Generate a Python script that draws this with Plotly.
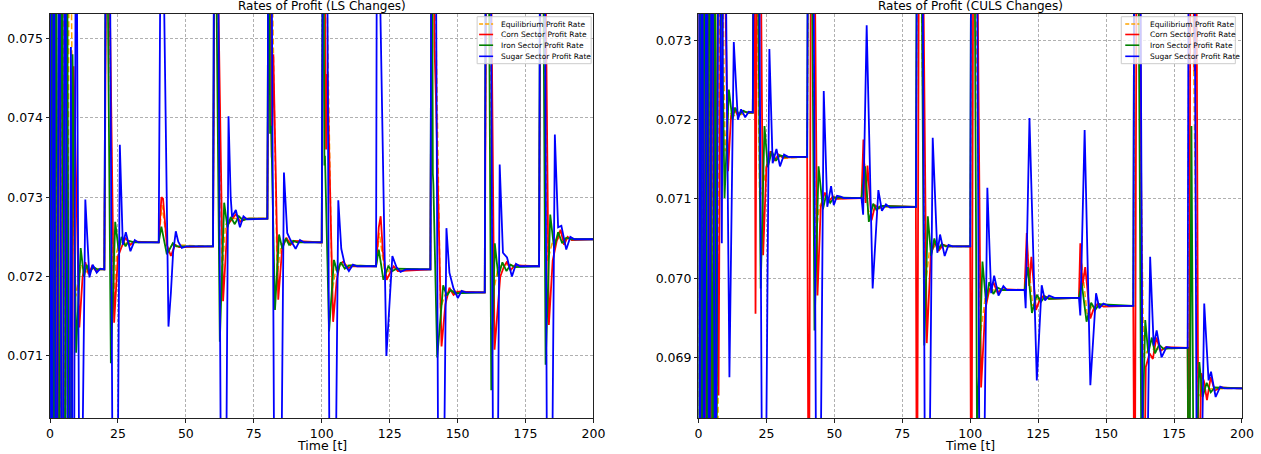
import plotly.graph_objects as go

# ---------------- data: (time, profit rate) points ----------------
# values outside the visible y-range are spikes that run off the axes
LS_EQUIL = [(0,0.078),(1.0,0.066),(2.0,0.078),(3.4,0.066),(4.5,0.078),(6.0,0.066),(7.2,0.078),(8.6,0.0728),(9.5,0.07175),(10.5,0.07195),(11.5,0.07215),(13,0.07205),(15,0.07210),(20,0.07209),
    (20.8,0.078),(23.4,0.0716),(24.5,0.0723),(25.5,0.07245),(27,0.07240),(29,0.07244),(40,0.07243),
    (41.2,0.07290),(43.5,0.07232),(45,0.07240),(60,0.07238),
    (60.7,0.078),(63.3,0.0720),(64.6,0.07265),(66,0.07273),(80,0.07273),
    (80.7,0.078),(83.6,0.0720),(85,0.07240),(87,0.07245),(100,0.07243),
    (100.7,0.078),(103.8,0.0718),(105.2,0.0721),(107,0.07215),(120,0.07213),
    (121.2,0.07255),(123.4,0.07200),(125,0.07210),(140,0.07209),
    (140.7,0.078),(143.7,0.0716),(145.5,0.07178),(147,0.07182),(160,0.07180),
    (160.7,0.078),(163.2,0.0718),(164.8,0.0721),(166.5,0.07215),(180,0.07213),
    (180.7,0.078),(183.2,0.0722),(185,0.07245),(187,0.07248),(200,0.07247)]

LS_CORN = [(0,0.078),(0.8,0.066),(1.7,0.078),(2.6,0.066),(3.5,0.078),(4.6,0.066),(5.6,0.078),(7.6,0.066),(8.7,0.07465),(10.8,0.07136),(12.0,0.07200),(13.0,0.07218),(14.2,0.07203),(15.5,0.07213),(17.0,0.07207),(18.0,0.07209),(20.0,0.07209),
    (21.0,0.078),(23.6,0.07142),(25.0,0.07225),(26.2,0.07236),(27.8,0.07249),(29.5,0.07240),(31.0,0.07244),(40.0,0.07243),
    (41.0,0.07300),(41.6,0.07298),(43.0,0.07240),(44.5,0.07226),(46.0,0.07240),(47.5,0.07237),(60.0,0.07238),
    (60.8,0.078),(63.7,0.07169),(65.3,0.07265),(67.0,0.07272),(68.5,0.07279),(70.0,0.07269),(72.0,0.07273),(80.0,0.07273),
    (80.8,0.078),(81.6,0.0735),(82.2,0.0748),(84.0,0.07171),(85.5,0.07238),(87.0,0.07249),(88.5,0.07240),(90.0,0.07245),(100.0,0.07243),
    (100.8,0.078),(101.6,0.0736),(102.1,0.07455),(104.2,0.07143),(105.5,0.07195),(106.6,0.07215),(108.0,0.07219),(109.5,0.07210),(111.0,0.07213),(120.0,0.07213),
    (121.0,0.07262),(121.7,0.07276),(122.5,0.07232),(123.9,0.07196),(125.2,0.07205),(126.5,0.07213),(128.0,0.07207),(140.0,0.07209),
    (140.7,0.078),(141.5,0.0749),(142.0,0.0743),(144.1,0.07112),(145.5,0.07165),(147.0,0.07186),(148.5,0.07177),(150.0,0.07181),(160.0,0.07180),
    (160.8,0.078),(161.8,0.078),(163.6,0.07108),(165.7,0.07200),(167.0,0.07212),(168.2,0.07219),(169.5,0.07208),(171.0,0.07214),(180.0,0.07213),
    (180.8,0.078),(181.8,0.078),(183.6,0.07139),(185.0,0.07220),(186.5,0.07245),(187.9,0.07259),(189.2,0.07240),(190.5,0.07250),(192.0,0.07246),(200.0,0.07247)]

LS_IRON = [(0,0.066),(0.6,0.078),(1.4,0.066),(2.2,0.078),(3.2,0.066),(4.3,0.078),(5.4,0.066),(6.2,0.078),(7.2,0.066),(8.3,0.0748),(9.6,0.07104),(11.3,0.07236),(12.5,0.07200),(13.5,0.07215),(14.5,0.07205),(16.0,0.07212),(17.5,0.07209),(20.0,0.07209),
    (20.7,0.078),(22.4,0.07091),(24.0,0.07269),(25.3,0.07232),(26.3,0.07250),(27.8,0.07238),(29.0,0.07245),(31.0,0.07243),(40.0,0.07243),
    (41.0,0.07263),(43.0,0.07228),(44.2,0.07236),(45.2,0.07242),(46.5,0.07238),(60.0,0.07238),
    (60.6,0.078),(62.5,0.07118),(64.1,0.07293),(65.3,0.07262),(66.5,0.07275),(68.0,0.07266),(69.5,0.07276),(71.0,0.07271),(73.0,0.07273),(80.0,0.07273),
    (80.5,0.078),(81.0,0.0738),(81.4,0.07390),(82.8,0.07158),(84.3,0.07253),(85.5,0.07235),(86.8,0.07248),(88.0,0.07240),(89.5,0.07245),(91.0,0.07243),(100.0,0.07243),
    (100.5,0.078),(101.0,0.0734),(101.2,0.07352),(102.7,0.07131),(104.5,0.07221),(105.8,0.07205),(107.0,0.07218),(108.5,0.07210),(110.0,0.07214),(120.0,0.07213),
    (121.0,0.07234),(122.7,0.07196),(124.5,0.07213),(126.0,0.07207),(127.5,0.07210),(140.0,0.07209),
    (140.5,0.078),(140.9,0.0733),(141.1,0.07316),(142.5,0.07098),(144.7,0.07189),(146.0,0.07176),(147.5,0.07183),(149.0,0.07179),(160.0,0.07180),
    (160.5,0.078),(161.2,0.078),(162.4,0.07057),(163.7,0.07242),(165.0,0.07200),(166.5,0.07218),(168.0,0.07207),(169.5,0.07215),(171.0,0.07212),(180.0,0.07213),
    (180.5,0.078),(181.2,0.078),(182.4,0.07089),(184.1,0.07278),(185.5,0.07236),(187.0,0.07256),(188.5,0.07242),(190.0,0.07249),(192.0,0.07247),(200.0,0.07247)]

LS_SUGAR = [(0,0.078),(0.6,0.066),(1.4,0.078),(2.3,0.066),(3.4,0.078),(4.6,0.066),(5.5,0.078),(6.9,0.066),(7.7,0.07489),(8.6,0.066),(9.6,0.078),(11.2,0.066),(11.7,0.0690),(13.0,0.07297),(14.5,0.07199),(15.7,0.07215),(17.2,0.07205),(18.5,0.07210),(20.0,0.07209),
    (20.7,0.078),(21.8,0.078),(23.5,0.066),(24.3,0.066),(25.7,0.07366),(26.8,0.07240),(27.9,0.07256),(29.6,0.07232),(31.2,0.07246),(32.5,0.07243),(40.0,0.07243),
    (41.0,0.078),(43.6,0.07137),(44.5,0.0718),(45.3,0.0723),(46.3,0.07257),(47.2,0.07244),(48.5,0.07236),(50.0,0.07238),(60.0,0.07238),
    (60.5,0.078),(61.6,0.078),(63.4,0.066),(64.2,0.066),(65.7,0.07402),(66.5,0.07300),(67.0,0.07275),(68.4,0.07284),(69.9,0.07262),(71.2,0.07276),(72.5,0.07272),(80.0,0.07273),
    (80.5,0.078),(81.3,0.078),(83.0,0.066),(84.3,0.066),(86.1,0.07331),(87.3,0.07255),(88.5,0.07246),(90.4,0.07235),(92.0,0.07246),(93.5,0.07243),(100.0,0.07243),
    (100.6,0.078),(101.8,0.078),(103.3,0.066),(104.2,0.066),(106.1,0.07296),(107.2,0.07235),(108.5,0.07215),(110.0,0.07207),(111.5,0.07215),(113.0,0.07213),(120.0,0.07213),
    (120.3,0.0765),(121.0,0.0765),(123.8,0.07100),(126.0,0.07226),(127.5,0.07212),(129.0,0.07206),(131.0,0.07209),(140.0,0.07209),
    (140.5,0.078),(141.8,0.078),(143.3,0.066),(144.0,0.066),(145.9,0.07261),(147.0,0.07205),(148.5,0.07185),(150.1,0.07173),(151.5,0.07182),(153.0,0.07180),(160.0,0.07180),
    (160.5,0.078),(162.0,0.078),(163.5,0.066),(164.2,0.066),(165.5,0.07341),(166.7,0.07230),(168.2,0.07224),(170.0,0.07200),(171.5,0.07216),(173.0,0.07213),(180.0,0.07213),
    (180.5,0.078),(181.9,0.078),(183.3,0.066),(184.0,0.066),(185.8,0.07379),(187.0,0.07262),(188.2,0.07264),(190.0,0.07234),(191.5,0.07250),(193.0,0.07247),(200.0,0.07247)]

CULS_EQUIL = [(0,0.066),(1.0,0.0765),(2.2,0.066),(3.4,0.0765),(4.6,0.066),(5.8,0.0765),(7.0,0.066),(8.0,0.0765),(9.8,0.0716),(11.0,0.0721),(13.0,0.07205),(20.0,0.07209),
    (20.8,0.0765),(22.5,0.0710),(24.0,0.07120),(25.5,0.07150),(40.0,0.07153),
    (40.8,0.0765),(43.0,0.0705),(44.5,0.07090),(46.0,0.07100),(60.0,0.07101),
    (61.0,0.07150),(62.5,0.07080),(64.0,0.07090),(80.0,0.07090),
    (80.8,0.0765),(83.5,0.0699),(85.0,0.07035),(87.0,0.07040),(100.0,0.07040),
    (100.8,0.0765),(103.8,0.0693),(105.5,0.06975),(107.0,0.06985),(120.0,0.06985),
    (121.0,0.07035),(123.0,0.06965),(125.0,0.06975),(140.0,0.06975),
    (141.0,0.07020),(143.0,0.06955),(145.0,0.06965),(160.0,0.06965),
    (160.8,0.0765),(163.8,0.0690),(165.5,0.06910),(180.0,0.06912),
    (180.8,0.0765),(183.8,0.0685),(185.5,0.06860),(200.0,0.06861)]

CULS_CORN = [(0,0.0765),(0.8,0.066),(1.6,0.0765),(2.5,0.066),(3.4,0.0765),(4.4,0.066),(5.4,0.0765),(7.4,0.06852),(8.6,0.0765),(10.9,0.07135),(12.0,0.07205),(13.0,0.07215),(14.5,0.07205),(16.0,0.07211),(18.0,0.07209),(20.0,0.07209),
    (20.5,0.0765),(21.0,0.06955),(21.8,0.0765),(22.4,0.0765),(23.8,0.07029),(25.0,0.07140),(26.5,0.07160),(28.0,0.07148),(29.5,0.07156),(31.0,0.07152),(40.0,0.07153),
    (40.6,0.066),(41.6,0.0765),(42.2,0.0765),(43.8,0.06978),(45.0,0.07090),(46.5,0.07108),(48.0,0.07097),(49.5,0.07103),(51.0,0.07100),(60.0,0.07101),
    (60.7,0.07175),(61.5,0.07095),(62.2,0.07142),(63.7,0.07073),(65.0,0.07092),(66.5,0.07088),(68.0,0.07091),(80.0,0.07090),
    (80.4,0.066),(81.3,0.0765),(82.0,0.0765),(84.0,0.06918),(85.5,0.07030),(87.0,0.07045),(88.5,0.07035),(90.0,0.07042),(92.0,0.07040),(100.0,0.07040),
    (100.4,0.066),(101.3,0.0765),(102.0,0.0765),(104.0,0.06862),(105.5,0.06960),(107.0,0.06985),(108.5,0.06995),(110.0,0.06982),(112.0,0.06986),(120.0,0.06985),
    (120.8,0.07057),(121.7,0.06990),(122.5,0.07027),(124.2,0.06960),(125.5,0.06972),(127.0,0.06978),(129.0,0.06974),(140.0,0.06975),
    (140.5,0.07044),(141.3,0.06990),(142.3,0.07014),(144.2,0.06949),(145.5,0.06962),(147.0,0.06968),(149.0,0.06964),(160.0,0.06965),
    (160.5,0.066),(161.4,0.0765),(162.2,0.0765),(163.6,0.066),(164.6,0.06888),(166.0,0.06905),(167.2,0.06898),(168.5,0.06925),(170.0,0.06908),(172.0,0.06913),(180.0,0.06912),
    (180.4,0.066),(181.2,0.0765),(182.5,0.07261),(183.0,0.0765),(184.0,0.0670),(185.0,0.0688),(186.0,0.06870),(187.1,0.06846),(188.5,0.06875),(190.0,0.06858),(192.0,0.06862),(200.0,0.06861)]

CULS_IRON = [(0,0.066),(0.6,0.0765),(1.5,0.066),(2.3,0.0765),(3.3,0.066),(4.2,0.0765),(5.3,0.066),(6.0,0.0765),(6.6,0.066),(7.3,0.0765),(9.6,0.07101),(11.2,0.07238),(12.5,0.07200),(13.5,0.07215),(15.0,0.07206),(16.5,0.07211),(18.0,0.07209),(20.0,0.07209),
    (20.6,0.0765),(21.3,0.0765),(22.9,0.06987),(24.3,0.07192),(25.5,0.07140),(27.0,0.07160),(28.5,0.07148),(30.0,0.07155),(32.0,0.07153),(40.0,0.07153),
    (40.5,0.0765),(41.3,0.0765),(42.7,0.06934),(44.2,0.07141),(45.8,0.07087),(47.0,0.07105),(48.5,0.07095),(50.0,0.07102),(60.0,0.07101),
    (61.3,0.07141),(62.7,0.07071),(64.3,0.07094),(65.5,0.07086),(67.0,0.07091),(80.0,0.07090),
    (80.5,0.0765),(81.6,0.0765),(83.1,0.06915),(84.4,0.07078),(85.6,0.07028),(86.8,0.07050),(88.0,0.07035),(89.5,0.07043),(91.0,0.07040),(100.0,0.07040),
    (100.5,0.0765),(101.3,0.0765),(102.5,0.06800),(104.5,0.07021),(105.8,0.06970),(107.0,0.06995),(108.5,0.06980),(110.0,0.06988),(112.0,0.06985),(120.0,0.06985),
    (121.2,0.07014),(122.7,0.06956),(124.5,0.06979),(126.0,0.06970),(127.5,0.06977),(129.0,0.06974),(140.0,0.06975),
    (141.0,0.06994),(142.8,0.06945),(144.5,0.06969),(146.0,0.06960),(147.5,0.06967),(160.0,0.06965),
    (160.5,0.0765),(161.5,0.0765),(163.0,0.0675),(164.4,0.06947),(165.5,0.06905),(166.8,0.06925),(168.0,0.06905),(169.5,0.06916),(171.0,0.06911),(180.0,0.06912),
    (180.5,0.066),(181.4,0.07192),(182.4,0.066),(183.2,0.0676),(184.3,0.06894),(185.5,0.06850),(187.0,0.06868),(188.5,0.06856),(190.0,0.06862),(200.0,0.06861)]

CULS_SUGAR = [(0,0.0765),(0.5,0.066),(1.3,0.0765),(2.1,0.066),(3.0,0.0765),(4.0,0.066),(5.0,0.0765),(6.2,0.066),(7.6,0.0765),(8.6,0.07044),(9.4,0.0765),(11.4,0.06875),(13.0,0.07298),(14.5,0.07200),(15.7,0.07213),(17.2,0.07203),(18.5,0.07210),(20.0,0.07209),
    (20.6,0.0765),(22.0,0.0765),(23.6,0.066),(24.5,0.066),(26.1,0.07289),(27.3,0.07145),(28.7,0.07163),(30.0,0.07141),(31.5,0.07156),(33.0,0.07153),(40.0,0.07153),
    (40.4,0.0765),(42.0,0.0765),(43.5,0.066),(44.6,0.066),(46.1,0.07236),(47.4,0.07090),(48.8,0.07116),(49.8,0.07092),(51.0,0.07104),(52.3,0.07103),(53.5,0.07101),(60.0,0.07101),
    (60.6,0.07080),(61.9,0.07319),(64.1,0.06987),(66.2,0.07111),(67.5,0.07085),(69.0,0.07093),(70.5,0.07089),(80.0,0.07090),
    (80.7,0.0765),(82.2,0.0765),(83.5,0.066),(84.6,0.066),(86.2,0.07177),(87.9,0.07032),(88.9,0.07055),(90.6,0.07028),(92.0,0.07042),(93.5,0.07040),(100.0,0.07040),
    (100.5,0.0765),(102.2,0.0765),(103.6,0.066),(104.6,0.066),(106.3,0.07114),(107.7,0.06981),(108.8,0.07003),(110.4,0.06978),(112.2,0.06990),(113.5,0.06985),(120.0,0.06985),
    (120.4,0.06962),(121.8,0.07202),(124.5,0.06871),(126.3,0.06991),(127.5,0.06972),(129.0,0.06978),(131.0,0.06975),(140.0,0.06975),
    (140.5,0.06953),(142.1,0.07187),(144.2,0.06865),(146.3,0.06981),(147.5,0.06962),(149.0,0.06968),(151.0,0.06965),(160.0,0.06965),
    (160.5,0.0765),(162.3,0.0765),(163.7,0.066),(164.6,0.066),(166.2,0.07027),(167.5,0.06915),(168.6,0.06934),(170.4,0.06900),(172.2,0.06913),(174.0,0.06912),(180.0,0.06912),
    (180.5,0.0765),(182.3,0.0765),(183.5,0.066),(184.5,0.066),(186.1,0.06968),(187.7,0.06871),(188.6,0.06882),(190.3,0.06850),(192.0,0.06863),(193.5,0.06861),(200.0,0.06861)]

SERIES_NAMES = ["Equilibrium Profit Rate", "Corn Sector Profit Rate",
                "Iron Sector Profit Rate", "Sugar Sector Profit Rate"]
PANEL_TITLES = ["Rates of Profit (LS Changes)", "Rates of Profit (CULS Changes)"]
X_LABEL = "Time [t]"
X_TICKS = [0, 25, 50, 75, 100, 125, 150, 175, 200]
LS_Y_TICKS = [0.071, 0.072, 0.073, 0.074, 0.075]
CULS_Y_TICKS = [0.069, 0.070, 0.071, 0.072, 0.073]

# ---------------- styling ----------------
COLORS = ["#FFA500", "#FF0000", "#008000", "#0000FF"]
DASHES = ["6px,3px", "solid", "solid", "solid"]
WIDTHS = [1.5, 1.8, 1.8, 1.8]
FONT = "DejaVu Sans"

fig = go.Figure()
panels = [
    ([LS_EQUIL, LS_CORN, LS_IRON, LS_SUGAR], "x", "y"),
    ([CULS_EQUIL, CULS_CORN, CULS_IRON, CULS_SUGAR], "x2", "y2"),
]
for series_list, xa, ya in panels:
    for i, pts in enumerate(series_list):
        fig.add_trace(go.Scatter(
            x=[p[0] for p in pts], y=[p[1] for p in pts],
            mode="lines", name=SERIES_NAMES[i], showlegend=False,
            line=dict(color=COLORS[i], width=WIDTHS[i], dash=DASHES[i]),
            xaxis=xa, yaxis=ya))

axis_common = dict(
    automargin=False,
    showline=True, mirror=True, linecolor="#222222", linewidth=1,
    ticks="outside", ticklen=3.5, tickwidth=0.8, tickcolor="#222222",
    showgrid=True, gridcolor="#b0b0b0", gridwidth=0.8, griddash="3px,2px",
    zeroline=False, tickfont=dict(family=FONT, size=12.5, color="#000000"),
)

fig.update_layout(
    width=1261, height=454,
    margin=dict(l=50, r=19, t=14, b=36),
    plot_bgcolor="white", paper_bgcolor="white",
    font=dict(family=FONT, color="#000000"),
    showlegend=False,
    xaxis=dict(domain=[0, 0.4559], range=[0, 200], tickvals=X_TICKS, anchor="y",
               **axis_common),
    yaxis=dict(domain=[0, 1], range=[0.070219, 0.075307], tickvals=LS_Y_TICKS,
               tickformat=".3f", anchor="x", **axis_common),
    xaxis2=dict(domain=[0.5440, 1], range=[0, 200], tickvals=X_TICKS, anchor="y2",
                **axis_common),
    yaxis2=dict(domain=[0, 1], range=[0.068235, 0.073333], tickvals=CULS_Y_TICKS,
                tickformat=".3f", anchor="x2", **axis_common),
)

# panel titles and x-axis labels
for title, xa, ya in [(PANEL_TITLES[0], "x", "y"), (PANEL_TITLES[1], "x2", "y2")]:
    fig.add_annotation(text=title, xref=f"{xa} domain", yref=f"{ya} domain",
                       x=0.5, y=1, xanchor="center", yanchor="bottom", yshift=-1,
                       showarrow=False, font=dict(family=FONT, size=12, color="#000000"))
    fig.add_annotation(text=X_LABEL, xref=f"{xa} domain", yref=f"{ya} domain",
                       x=0.5, y=0, xanchor="center", yanchor="middle", yshift=-27,
                       showarrow=False, font=dict(family=FONT, size=12.5, color="#000000"))

# legends (matplotlib-style box in the upper right of each panel)
legend_geo = [
    # xref, yref, box x0, box x1, line x0, line x1, text x
    ("x domain", "y domain", 0.786, 0.9958, 0.7896, 0.8154, 0.8264),
    ("x2 domain", "y2 domain", 0.7779, 0.9877, 0.7852, 0.8110, 0.8263),
]
row_y = [0.9752, 0.9493, 0.9228, 0.8953]
for xr, yr, bx0, bx1, lx0, lx1, tx in legend_geo:
    fig.add_shape(type="rect", xref=xr, yref=yr, x0=bx0, x1=bx1, y0=0.877, y1=0.9933,
                  fillcolor="rgba(255,255,255,0.8)", line=dict(color="#cccccc", width=1),
                  layer="above")
    for i, name in enumerate(SERIES_NAMES):
        fig.add_shape(type="line", xref=xr, yref=yr, x0=lx0, x1=lx1, y0=row_y[i], y1=row_y[i],
                      line=dict(color=COLORS[i], width=1.6,
                                dash="4px,2px" if i == 0 else "solid"),
                      layer="above")
        fig.add_annotation(text=name, xref=xr, yref=yr, x=tx, y=row_y[i],
                           xanchor="left", yanchor="middle", showarrow=False,
                           font=dict(family=FONT, size=7.5, color="#000000"))

fig.write_html("out.html")
